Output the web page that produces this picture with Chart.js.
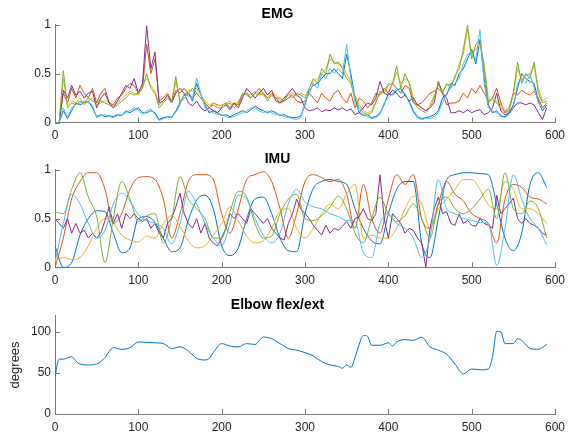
<!DOCTYPE html>
<html><head><meta charset="utf-8">
<script src="https://cdn.jsdelivr.net/npm/chart.js@4.4.1/dist/chart.umd.min.js"></script>
<style>
html,body{margin:0;padding:0;background:#fff;width:577px;height:433px;overflow:hidden}
canvas{position:absolute;left:0}
</style></head><body>
<canvas id="emg" width="577" height="145" style="top:0px"></canvas>
<canvas id="imu" width="577" height="145" style="top:145px"></canvas>
<canvas id="elbow" width="577" height="142" style="top:291px"></canvas>
<script>
// ---------- sample positions ----------
const X5 = [0,5,10,15,20,25,30,35,40,45,50,55,60,65,70,75,80,85,90,95,100,105,110,115,120,125,130,135,140,145,150,155,160,165,170,175,180,185,190,195,200,205,210,215,220,225,230,235,240,245,250,255,260,265,270,275,280,285,290,295,300,305,310,315,320,325,330,335,340,345,350,355,360,365,370,375,380,385,390,395,400,405,410,415,420,425,430,435,440,445,450,455,460,465,470,475,480,485,490,495,500,505,510,515,520,525,530,535,540,545,550,555,560,565,570,575,580,585,590];
const X10 = [0,10,20,30,40,50,60,70,80,90,100,110,120,130,140,150,160,170,180,190,200,210,220,230,240,250,260,270,280,290,300,310,320,330,340,350,360,370,380,390,400,410,420,430,440,450,460,470,480,490,500,510,520,530,540,550,560,570,580,590];
const X_TICKS_STEP = 100;

// ---------- EMG (step 5) ----------
const emgBlue = [0,0,0.12,0.04,0.12,0.2,0.18,0.2,0.22,0.15,
 0.06,0.08,0.06,0.07,0.06,0.08,0.07,0.12,0.1,0.13,
 0.15,0.1,0.1,0.12,0.1,0.03,0.05,0.06,0.05,0.12,
 0.2,0.28,0.3,0.22,0.4,0.28,0.18,0.1,0.12,0.1,
 0.07,0.08,0.06,0.08,0.1,0.12,0.1,0.13,0.17,0.14,
 0.12,0.1,0.12,0.1,0.07,0.08,0.06,0.05,0.05,0.07,
 0.18,0.33,0.38,0.4,0.45,0.5,0.5,0.55,0.5,0.45,
 0.7,0.5,0.25,0.1,0.07,0.08,0.05,0.06,0.1,0.18,
 0.3,0.28,0.33,0.35,0.28,0.22,0.12,0.06,0.04,0.05,
 0.06,0.08,0.12,0.25,0.28,0.4,0.38,0.5,0.55,0.65,
 0.75,0.6,0.85,0.45,0.18,0.1,0.12,0.06,0.06,0.1,
 0.18,0.35,0.5,0.45,0.42,0.4,0.22,0.12,0.18];
const emgOrange = [0,0,0.3,0.2,0.35,0.25,0.38,0.3,0.25,0.35,
 0.2,0.3,0.35,0.2,0.18,0.25,0.28,0.35,0.4,0.38,
 0.3,0.35,0.8,0.5,0.65,0.22,0.25,0.3,0.22,0.33,
 0.3,0.35,0.3,0.25,0.3,0.25,0.2,0.15,0.2,0.18,
 0.17,0.2,0.15,0.2,0.18,0.28,0.3,0.25,0.3,0.35,
 0.3,0.25,0.3,0.25,0.2,0.22,0.25,0.28,0.22,0.2,
 0.22,0.3,0.25,0.2,0.3,0.25,0.22,0.3,0.33,0.25,
 0.2,0.3,0.15,0.25,0.22,0.15,0.2,0.3,0.28,0.35,
 0.3,0.4,0.35,0.3,0.38,0.35,0.2,0.18,0.2,0.25,
 0.3,0.32,0.35,0.3,0.18,0.2,0.2,0.22,0.3,0.25,
 0.35,0.3,0.38,0.3,0.22,0.25,0.35,0.2,0.1,0.15,
 0.3,0.28,0.33,0.3,0.28,0.32,0.25,0.15,0.2];
const emgYellow = [0,0,0.45,0.18,0.22,0.2,0.25,0.18,0.22,0.25,
 0.18,0.2,0.23,0.2,0.17,0.2,0.25,0.28,0.32,0.3,
 0.28,0.38,0.45,0.38,0.32,0.18,0.22,0.28,0.22,0.42,
 0.22,0.28,0.33,0.32,0.35,0.28,0.22,0.18,0.2,0.17,
 0.18,0.2,0.22,0.18,0.22,0.28,0.3,0.28,0.32,0.3,
 0.28,0.25,0.3,0.28,0.22,0.25,0.28,0.3,0.27,0.3,
 0.28,0.3,0.42,0.45,0.5,0.55,0.65,0.62,0.6,0.58,
 0.5,0.42,0.28,0.18,0.12,0.1,0.12,0.22,0.3,0.33,
 0.4,0.38,0.52,0.4,0.45,0.42,0.25,0.18,0.15,0.12,
 0.18,0.28,0.38,0.33,0.38,0.4,0.45,0.6,0.7,0.95,
 0.7,0.75,0.8,0.6,0.25,0.22,0.22,0.18,0.12,0.15,
 0.28,0.55,0.45,0.48,0.5,0.58,0.35,0.22,0.25];
const emgPurple = [0,0,0.33,0.25,0.38,0.28,0.32,0.25,0.3,0.32,
 0.15,0.25,0.3,0.2,0.15,0.22,0.3,0.38,0.35,0.45,
 0.3,0.4,0.99,0.55,0.72,0.2,0.22,0.28,0.2,0.3,
 0.35,0.3,0.2,0.17,0.22,0.15,0.12,0.15,0.12,0.1,
 0.15,0.18,0.13,0.2,0.15,0.25,0.35,0.3,0.25,0.3,
 0.35,0.28,0.33,0.22,0.2,0.25,0.3,0.35,0.28,0.25,
 0.15,0.12,0.13,0.15,0.11,0.13,0.12,0.15,0.13,0.15,
 0.12,0.14,0.08,0.1,0.15,0.2,0.18,0.25,0.42,0.3,
 0.28,0.33,0.3,0.25,0.28,0.22,0.25,0.18,0.15,0.12,
 0.15,0.2,0.42,0.3,0.25,0.1,0.1,0.12,0.1,0.13,
 0.1,0.12,0.13,0.08,0.1,0.15,0.3,0.12,0.08,0.1,
 0.15,0.2,0.2,0.18,0.2,0.18,0.1,0.03,0.15];
const emgGreen = [0,0,0.53,0.15,0.2,0.18,0.22,0.2,0.25,0.22,
 0.2,0.22,0.2,0.18,0.15,0.18,0.22,0.25,0.3,0.28,
 0.3,0.35,0.5,0.35,0.3,0.15,0.2,0.25,0.2,0.47,
 0.2,0.25,0.3,0.35,0.3,0.25,0.2,0.15,0.18,0.15,
 0.15,0.18,0.2,0.15,0.2,0.3,0.28,0.25,0.3,0.28,
 0.3,0.22,0.28,0.25,0.25,0.22,0.3,0.25,0.3,0.28,
 0.25,0.35,0.45,0.4,0.55,0.5,0.7,0.6,0.62,0.55,
 0.45,0.4,0.25,0.15,0.1,0.08,0.1,0.2,0.32,0.3,
 0.38,0.4,0.58,0.35,0.5,0.4,0.22,0.15,0.12,0.1,
 0.15,0.25,0.4,0.3,0.4,0.35,0.48,0.55,0.75,1.0,
 0.65,0.8,0.85,0.55,0.2,0.25,0.2,0.15,0.1,0.12,
 0.3,0.62,0.4,0.5,0.45,0.62,0.3,0.2,0.22];
const emgCyan = [0,0,0.15,0.05,0.15,0.18,0.2,0.22,0.2,0.18,
 0.05,0.07,0.08,0.06,0.05,0.07,0.08,0.1,0.12,0.15,
 0.13,0.08,0.12,0.14,0.08,0.02,0.04,0.05,0.06,0.1,
 0.18,0.3,0.27,0.25,0.45,0.3,0.15,0.12,0.1,0.08,
 0.08,0.06,0.05,0.06,0.08,0.1,0.12,0.15,0.15,0.12,
 0.1,0.12,0.1,0.08,0.08,0.06,0.05,0.04,0.03,0.05,
 0.2,0.3,0.4,0.35,0.5,0.45,0.55,0.5,0.55,0.5,
 0.8,0.45,0.2,0.12,0.08,0.06,0.04,0.05,0.08,0.2,
 0.25,0.3,0.35,0.3,0.3,0.2,0.1,0.05,0.03,0.04,
 0.04,0.06,0.1,0.2,0.3,0.35,0.4,0.45,0.6,0.7,
 0.7,0.65,0.95,0.4,0.15,0.12,0.1,0.08,0.05,0.08,
 0.15,0.4,0.45,0.4,0.5,0.35,0.2,0.15,0.15];

// ---------- IMU (step 10, purple step 5) ----------
const imuBlue = [0.22,0.0,0.05,0.33,0.5,0.58,0.57,0.35,0.15,0.2,
 0.5,0.52,0.46,0.3,0.16,0.2,0.48,0.69,0.74,0.6,
 0.22,0.12,0.2,0.5,0.7,0.72,0.55,0.3,0.17,0.16,
 0.55,0.81,0.88,0.9,0.88,0.85,0.6,0.4,0.27,0.24,
 0.55,0.8,0.88,0.88,0.25,0.1,0.5,0.9,0.95,0.97,
 0.97,0.96,0.95,0.65,0.3,0.17,0.35,0.85,0.97,0.82];
const imuOrange = [0.0,0.3,0.7,0.88,0.97,0.97,0.8,0.45,0.55,0.8,
 0.92,0.93,0.9,0.7,0.3,0.55,0.88,0.95,0.95,0.9,
 0.55,0.35,0.6,0.9,0.95,0.98,0.88,0.6,0.3,0.55,
 0.88,0.95,0.92,0.88,0.9,0.75,0.4,0.85,0.5,0.35,
 0.7,0.95,0.85,0.95,0.5,0.4,0.65,0.88,0.75,0.68,
 0.55,0.5,0.45,0.25,0.7,0.85,0.82,0.72,0.7,0.65];
const imuYellow = [0.07,0.1,0.08,0.1,0.22,0.4,0.5,0.45,0.33,0.28,
 0.26,0.32,0.3,0.45,0.53,0.42,0.27,0.2,0.22,0.33,
 0.45,0.62,0.48,0.32,0.25,0.27,0.4,0.58,0.6,0.4,
 0.3,0.4,0.55,0.65,0.6,0.75,0.85,0.3,0.33,0.3,
 0.3,0.4,0.6,0.73,0.65,0.4,0.6,0.7,0.8,0.9,
 0.9,0.8,0.64,0.6,0.88,0.8,0.6,0.6,0.55,0.45];
const imuPurple = [0.5,0.45,0.4,0.5,0.35,0.45,0.35,0.38,0.3,0.35,
 0.3,0.35,0.48,0.62,0.45,0.55,0.4,0.55,0.5,0.55,
 0.5,0.47,0.5,0.4,0.45,0.35,0.3,0.45,0.5,0.62,
 0.76,0.55,0.45,0.4,0.5,0.35,0.45,0.3,0.25,0.22,
 0.3,0.4,0.55,0.5,0.55,0.5,0.45,0.6,0.55,0.5,
 0.45,0.5,0.4,0.35,0.3,0.28,0.45,0.55,0.7,0.6,
 0.55,0.5,0.43,0.38,0.33,0.43,0.35,0.4,0.38,0.42,
 0.47,0.4,0.5,0.52,0.6,0.5,0.48,0.55,0.95,0.5,
 0.3,0.55,0.5,0.45,0.35,0.4,0.38,0.3,0.25,0.0,
 0.4,0.6,0.72,0.55,0.57,0.45,0.43,0.55,0.45,0.48,
 0.43,0.42,0.5,0.45,0.43,0.4,0.74,0.55,0.6,0.65,
 0.71,0.5,0.45,0.5,0.45,0.43,0.4,0.35,0.33];
const imuGreen = [0.57,0.55,0.8,0.97,0.72,0.52,0.05,0.5,0.88,0.7,
 0.47,0.53,0.55,0.25,0.5,0.93,0.7,0.6,0.5,0.3,
 0.3,0.57,0.78,0.72,0.45,0.3,0.32,0.55,0.7,0.75,
 0.5,0.48,0.53,0.62,0.73,0.6,0.35,0.25,0.5,0.72,
 0.55,0.47,0.53,0.65,0.5,0.3,0.65,0.72,0.6,0.55,
 0.6,0.7,0.8,0.5,0.97,0.6,0.55,0.68,0.6,0.3];
const imuCyan = [0.05,0.45,0.75,0.65,0.45,0.3,0.38,0.65,0.76,0.68,
 0.54,0.48,0.45,0.4,0.24,0.45,0.78,0.65,0.45,0.3,
 0.22,0.45,0.74,0.7,0.5,0.33,0.25,0.35,0.65,0.8,
 0.67,0.62,0.6,0.55,0.52,0.48,0.47,0.15,0.1,0.45,
 0.55,0.45,0.4,0.3,0.1,0.3,0.9,0.6,0.55,0.5,
 0.48,0.46,0.45,0.02,0.4,0.95,0.7,0.5,0.4,0.23];

// ---------- Elbow flex/ext ----------
const elbowX = [0,3,5,10,20,25,30,40,50,55,60,70,80,90,100,110,120,130,140,150,160,170,180,185,190,200,210,220,230,240,250,260,270,280,290,300,310,320,330,340,345,350,355,360,365,370,375,380,390,400,405,410,420,430,440,450,460,470,480,490,500,510,520,525,530,535,540,550,555,560,570,580,590];
const elbowDeg = [45,62,67,67,70,65,61,60,61,64,69,81,79,81,88,87.5,87,86,80,82,77,68,66,68,75,86,83,82,86,85,94,92,86,80,78,75,71,64,60,58,56,60,57,69,85,96,95,84,84,87,83,88,91,90,94,82,78,73,61,49,55,54,55,70,101,100,86,86,92,90,80,79,85];

const titles = ['EMG','IMU','Elbow flex/ext'];
const yLabelElbow = 'degrees';

// ---------- styling ----------
const FONT = "'Liberation Sans', Arial, Helvetica, sans-serif";
const AXIS = '#7a7a7a';
const TEXT = '#262626';
const C = {blue:'#0072BD', orange:'#D95319', yellow:'#EDB120', purple:'#7E2F8E', green:'#77AC30', cyan:'#4DBEEE'};

function pts(xs, ys){ return xs.map((x,i)=>({x:x, y:ys[i]})); }
function ds(xs, ys, color, smooth){
  return {data: pts(xs, ys), borderColor: color, backgroundColor: color, borderWidth: 1,
          pointRadius: 0, fill: false, tension: smooth ? 0.4 : 0,
          cubicInterpolationMode: smooth ? 'monotone' : 'default'};
}

const inwardTicks = {
  id: 'inwardTicks',
  afterDraw(chart){
    const ctx = chart.ctx, a = chart.chartArea, sx = chart.scales.x, sy = chart.scales.y;
    ctx.save(); ctx.strokeStyle = AXIS; ctx.lineWidth = 1; ctx.beginPath();
    sx.ticks.forEach(t => { const p = Math.round(sx.getPixelForValue(t.value)) + 0.5; ctx.moveTo(p, a.bottom); ctx.lineTo(p, a.bottom - 5); });
    sy.ticks.forEach(t => { const p = Math.round(sy.getPixelForValue(t.value)) + 0.5; ctx.moveTo(a.left, p); ctx.lineTo(a.left + 5, p); });
    ctx.stroke(); ctx.restore();
  }
};

function panel(id, title, datasets, yMax, yStep, canvasH, plotBottom, yTitle){
  return new Chart(document.getElementById(id), {
    type: 'line',
    data: {datasets},
    options: {
      responsive: false, animation: false, devicePixelRatio: 1,
      layout: {padding: {top: 0, right: 22, bottom: 0, left: 0}},
      plugins: {
        legend: {display: false}, tooltip: {enabled: false},
        title: {display: true, text: title, color: '#000',
                font: {family: FONT, size: 14, weight: 'bold', lineHeight: 1.2},
                padding: {top: 6, bottom: 2}}
      },
      scales: {
        x: {type: 'linear', min: 0, max: 600,
            ticks: {stepSize: X_TICKS_STEP, color: TEXT, font: {family: FONT, size: 12}, padding: 6, maxRotation: 0, includeBounds: false},
            grid: {display: false, drawTicks: false}, border: {display: true, color: AXIS, width: 1},
            afterFit(s){ s.height = canvasH - plotBottom; }},
        y: {type: 'linear', min: 0, max: yMax,
            ticks: {stepSize: yStep, color: TEXT, font: {family: FONT, size: 12}, padding: 4, includeBounds: false,
                    callback: (v) => String(v)},
            grid: {display: false, drawTicks: false}, border: {display: true, color: AXIS, width: 1},
            title: yTitle ? {display: true, text: yTitle, color: TEXT, font: {family: FONT, size: 13}, padding: {top: 8, bottom: 0}} : {display: false},
            afterFit(s){ s.width = 55; }}
      }
    },
    plugins: [inwardTicks]
  });
}

// datasets listed top-most first (cyan drawn last in MATLAB order)
panel('emg', titles[0], [
  ds(X5, emgCyan, C.cyan), ds(X5, emgGreen, C.green), ds(X5, emgPurple, C.purple),
  ds(X5, emgYellow, C.yellow), ds(X5, emgOrange, C.orange), ds(X5, emgBlue, C.blue)
], 1, 0.5, 145, 122.5);

panel('imu', titles[1], [
  ds(X10, imuCyan, C.cyan, true), ds(X10, imuGreen, C.green, true), ds(X5, imuPurple, C.purple),
  ds(X10, imuYellow, C.yellow, true), ds(X10, imuOrange, C.orange, true), ds(X10, imuBlue, C.blue, true)
], 1, 0.5, 145, 122.3);

panel('elbow', titles[2], [
  ds(elbowX, elbowDeg, C.blue, true)
], 120, 50, 142, 123, yLabelElbow);
</script>
</body></html>
